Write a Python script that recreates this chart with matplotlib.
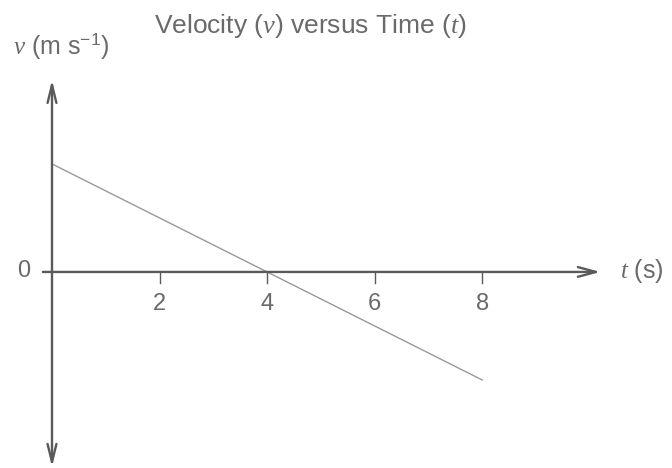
import matplotlib.pyplot as plt

plt.rcParams['font.family'] = 'Liberation Sans'
plt.rcParams['mathtext.fontset'] = 'custom'
plt.rcParams['mathtext.rm'] = 'Liberation Sans'
plt.rcParams['mathtext.it'] = 'Liberation Serif:italic'

# straight line v = 4 - t, crossing zero at t = 4 s
t_values = [0, 8]
v_values = [4, -4]
t_ticks = [2, 4, 6, 8]

text_col = '#6a6a6a'
axis_col = '#5a5a5a'

fig = plt.figure(figsize=(6.72, 4.68), dpi=100)
ax = fig.add_axes([0, 0, 1, 1])
ax.set_xlim(-0.967, 11.53)
ax.set_ylim(-7.26, 10.07)
ax.axis('off')

# axes drawn as arrows
ax.annotate('', xy=(10.2, 0), xytext=(-0.17, 0),
            arrowprops=dict(arrowstyle='->,head_length=1.3,head_width=0.35',
                            color=axis_col, lw=1.7, shrinkA=0, shrinkB=0))
ax.annotate('', xy=(0, 7.11), xytext=(0, -7.22),
            arrowprops=dict(arrowstyle='<->,head_length=1.3,head_width=0.32',
                            color=axis_col, lw=1.7, shrinkA=0, shrinkB=0))

# tick marks and labels on the time axis
for t in t_ticks:
    ax.plot([t, t], [0, -0.4], color=axis_col, lw=1.0)
    ax.text(t, -1.17, str(t), ha='center', va='center', fontsize=17, color=text_col)
ax.text(-0.52, 0.03, '0', ha='center', va='center', fontsize=17, color=text_col)

# velocity line
ax.plot(t_values, v_values, color='#999999', lw=1.0)

ax.text(10.57, 0.03, r'$t$ (s)', ha='left', va='center', fontsize=18, color=text_col)
ax.text(-0.726, 8.07, r'$v$ (m s$^{-1}$)', ha='left', va='baseline', fontsize=18,
        color=text_col)
ax.text(4.80, 8.85, r'Velocity ($v$) versus Time ($t$)', ha='center', va='baseline',
        fontsize=19, color=text_col)

fig.savefig('out.png', dpi=100)
